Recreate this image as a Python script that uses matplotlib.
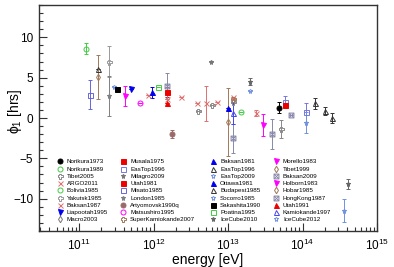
import matplotlib
matplotlib.use("Agg")
import matplotlib.pyplot as plt
from matplotlib.ticker import LogLocator, MultipleLocator, LogFormatterMathtext, NullFormatter
from matplotlib.lines import Line2D
from matplotlib.legend import Legend

plt.rcParams['font.family'] = ['Liberation Sans', 'DejaVu Sans']
plt.rcParams['mathtext.fontset'] = 'custom'
plt.rcParams['mathtext.rm'] = 'Liberation Sans'
plt.rcParams['mathtext.it'] = 'Liberation Sans:italic'

# experiments, in legend order (4 columns of 9)
labels = ['Norikura1973', 'Norikura1989', 'Tibet2005', 'ARGO2011', 'Bolivia1985',
          'Yakutsk1985', 'Baksan1987', 'Liapootah1995', 'Macro2003',
          'Musala1975', 'EasTop1996', 'Milagro2009', 'Utah1981', 'Misato1985',
          'London1985', 'Artyomovsk1990q', 'Matsushiro1995', 'SuperKamiokande2007',
          'Baksan1981', 'EasTop1996', 'EasTop2009', 'Ottawa1981', 'Budapest1985',
          'Socorro1985', 'Sakashita1990', 'Poatina1995', 'IceCube2010',
          'Morello1983', 'Tibet1999', 'Baksan2009', 'Holborn1983', 'Hobar1985',
          'HongKong1987', 'Utah1991', 'Kamiokande1997', 'IceCube2012']

# energy [eV], phase [hrs], error [hrs] per experiment
energy = [[4.9e13], [1.23e11], [3.9e12, 6.0e12, 1.17e13, 5.2e13],
          [2.3e12, 3.8e12, 5.1e12, 7.1e12, 1.17e13], [1.5e13],
          [2.5e11], [8.5e11, 1.5e12, 2.35e13], [5.0e11], [],
          [1.5e12], [5.9e13, 1.12e14], [5.9e12], [5.9e13], [1.41e11],
          [2.5e11], [1.75e12], [6.5e11], [1.17e13],
          [1.0e13], [1.48e14, 2.0e14, 2.5e14], [2.0e13, 1.12e14], [9.5e11], [1.78e11],
          [2.9e11], [3.2e11], [1.15e12], [2.0e13, 4.1e14],
          [4.2e11], [1.8e11], [1.15e13, 3.9e13], [2.95e13], [1.0e13],
          [1.5e12, 6.9e13], [1.5e12], [1.15e13], [3.6e14]]
phi = [[1.3], [8.6], [0.9, 1.6, 2.0, -1.4],
       [2.6, 1.8, 1.8, 2.0, 2.6], [0.7],
       [7.0], [2.9, 2.3, 0.6], [3.6], [],
       [3.2], [2.0, 0.7], [7.0], [1.6], [2.9],
       [2.75], [-2.0], [1.8], [2.4],
       [1.3], [1.8, 0.9, 0.0], [3.4, -0.6], [3.2], [6.1],
       [3.9], [3.6], [3.9], [4.5, -8.2],
       [2.7], [5.1], [-2.5, -2.0], [-0.9], [-0.5],
       [4.0, 0.4], [1.8], [0.6], [-11.5]]
phi_err = [[0.65], [0.65], [0, 0, 0, 1.1],
           [0, 0, 2.2, 0, 0], [0],
           [1.9], [0, 0, 0.4], [0], [],
           [0.6], [0.7, 1.2], [0], [0], [1.8],
           [2.5], [0.5], [0], [0],
           [0], [0.65, 0.5, 0.65], [0, 1.3], [0.7], [0],
           [0], [0], [0], [0.4, 0.65],
           [1.25], [2.7], [1.8, 1.9], [1.35], [4.2],
           [1.6, 0], [0], [1.3], [1.4]]

# styles
BOX = r'$\boxtimes$'
markers = ['o', 'o', 'P', 'x', 'o', 'P', 'x', 'v', 'd',
           's', 's', '*', 's', 's', '*', 'o', 'o', 'P',
           '^', '^', '*', '^', '^', '*', 's', 's', '*',
           'v', 'd', BOX, 'v', 'd', BOX, '^', '^', '*']
colors = ['black', '#44cc44', '#888888', '#e07070', '#44cc44', '#999999', '#e07070', '#0000ee', '#777777',
          '#ee0000', '#7777dd', '#777777', '#ee0000', '#6666dd', '#808080', '#9a6a6a', '#ff00ff', '#a07858',
          '#0000ee', '#333333', '#7090e0', '#0000ee', '#333333', '#7090e0', 'black', '#44cc44', '#666666',
          '#ff00ff', '#a07858', '#8888aa', '#ff00ff', '#a07858', '#8888aa', '#ee0000', '#4444ee', '#7090e0']
filled = [True, False, False, True, False, False, True, True, False,
          True, False, True, True, False, True, True, False, False,
          True, False, False, True, False, False, True, False, True,
          True, False, True, True, False, True, True, False, False]

fig = plt.figure(figsize=(3.94, 2.67), dpi=100)
ax = fig.add_axes([0.099, 0.135, 0.858, 0.846])

handles = []
for i in range(len(labels)):
    c = colors[i]
    fc = c if filled[i] else 'none'
    ms = 3.6
    mew = 0.7
    if markers[i] == BOX:
        ms, mew = 3.8, 0.3
    if markers[i] == 'd':
        ms = 3.3
    if energy[i]:
        ax.errorbar(energy[i], phi[i], yerr=phi_err[i], fmt='none', ecolor=c,
                    elinewidth=0.7, capsize=1.2, capthick=0.7, zorder=2)
        ax.plot(energy[i], phi[i], linestyle='none', marker=markers[i], color=c,
                markerfacecolor=fc, markersize=ms, markeredgewidth=mew, zorder=3)
    handles.append(Line2D([], [], linestyle='none', marker=markers[i], color=c,
                          markerfacecolor=fc, markersize=ms, markeredgewidth=mew))

ax.set_xscale('log')
ax.set_xlim(2.9e10, 1e15)
ax.set_ylim(-14, 14)

ax.xaxis.set_major_locator(LogLocator(base=10, numticks=10))
ax.xaxis.set_major_formatter(LogFormatterMathtext())
ax.xaxis.set_minor_locator(LogLocator(base=10, subs=range(2, 10), numticks=50))
ax.xaxis.set_minor_formatter(NullFormatter())
ax.yaxis.set_major_locator(MultipleLocator(5))
ax.yaxis.set_minor_locator(MultipleLocator(1))

ax.tick_params(which='both', direction='in', top=False, right=False, colors='#333333',
               labelcolor='black', labelsize=8.5, width=0.8)
ax.tick_params(which='major', length=6)
ax.tick_params(which='minor', length=3)
ax.tick_params(axis='x', pad=5)
ax.tick_params(axis='y', pad=4)
for s in ax.spines.values():
    s.set_linewidth(1.0)
    s.set_color('#333333')

ax.set_xlabel('energy [eV]', fontsize=10, labelpad=0)
ax.set_ylabel('ϕ$_{1}$ [hrs]', fontsize=10)
ax.yaxis.set_label_coords(-0.045, 0.53)

# four legend columns
col_x = [0.053, 0.240, 0.506, 0.692]
for k in range(4):
    leg = Legend(ax, handles[9 * k:9 * k + 9], labels[9 * k:9 * k + 9], loc='upper left',
                 bbox_to_anchor=(col_x[k], 0.318), frameon=False, fontsize=4.5,
                 labelspacing=0.3, handlelength=1.0, handletextpad=0.6,
                 borderpad=0, borderaxespad=0)
    ax.add_artist(leg)

fig.savefig('out.png', dpi=100)
